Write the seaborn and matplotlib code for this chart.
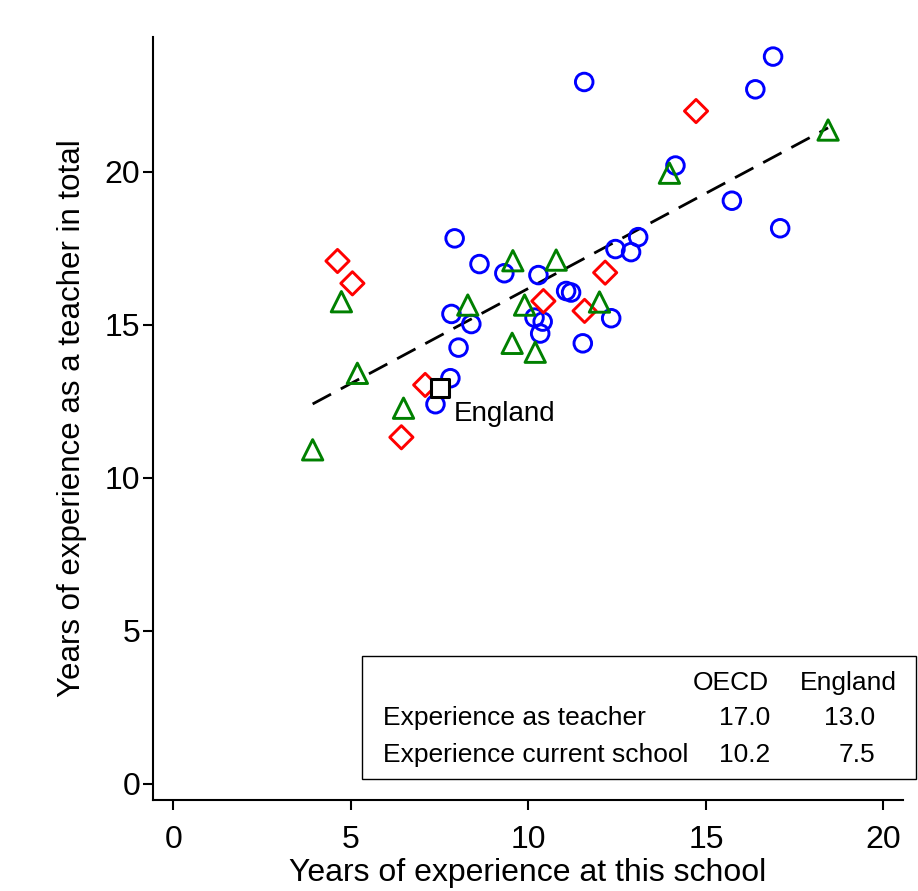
import numpy as np
import pandas as pd
import matplotlib.pyplot as plt
import seaborn as sns
from matplotlib.patches import Rectangle

# Country points (years at this school, years in total)
blue_x = [11.57, 16.89, 16.39, 14.14, 15.73, 17.09, 7.92, 8.62, 9.32, 10.28,
          11.06, 11.20, 12.45, 12.89, 13.09, 7.83, 8.39, 10.17, 10.40, 10.33,
          8.03, 11.53, 12.33, 7.80, 7.38]
blue_y = [22.94, 23.77, 22.70, 20.21, 19.06, 18.16, 17.83, 16.99, 16.69, 16.63,
          16.11, 16.06, 17.48, 17.38, 17.87, 15.36, 15.03, 15.24, 15.11, 14.72,
          14.26, 14.40, 15.22, 13.26, 12.41]
red_x = [14.72, 4.62, 5.04, 10.42, 12.16, 11.58, 7.09, 6.42]
red_y = [21.99, 17.09, 16.36, 15.78, 16.71, 15.46, 13.04, 11.33]
green_x = [18.44, 13.97, 4.73, 5.18, 6.48, 3.92, 8.29, 9.56, 10.78, 9.89,
           9.54, 10.19, 12.00]
green_y = [21.37, 19.96, 15.76, 13.42, 12.28, 10.92, 15.65, 17.10, 17.12, 15.65,
           14.40, 14.11, 15.75]
england_x = [7.5]
england_y = [12.95]

table_cols = ['OECD', 'England']
table_rows = ['Experience as teacher', 'Experience current school']
table_vals = [['17.0', '13.0'], ['10.2', '7.5']]

groups = ['blue', 'red', 'green']
df = pd.concat([
    pd.DataFrame({'school': blue_x, 'total': blue_y, 'group': 'blue'}),
    pd.DataFrame({'school': red_x, 'total': red_y, 'group': 'red'}),
    pd.DataFrame({'school': green_x, 'total': green_y, 'group': 'green'}),
], ignore_index=True)
eng = pd.DataFrame({'school': england_x, 'total': england_y})

sns.set_style('ticks')
plt.rcParams['font.family'] = ['Liberation Sans', 'DejaVu Sans']
plt.rcParams['text.color'] = 'black'
plt.rcParams['axes.labelcolor'] = 'black'
plt.rcParams['xtick.color'] = 'black'
plt.rcParams['ytick.color'] = 'black'

W, H = 918, 891
fig = plt.figure(figsize=(W / 100, H / 100), dpi=100)
ax = fig.add_axes([153 / W, 1 - 800 / H, 750 / W, 763 / H])


def fx(x):
    return x / W


def fy(y):
    return 1 - y / H


colors = {'blue': '#0000FF', 'red': '#FF0000', 'green': '#008000'}
markers = {'blue': 'o', 'red': 'D', 'green': '^'}
sizes = {'blue': 160, 'red': 140, 'green': 215}

for g in groups:
    sub = df[df['group'] == g]
    sns.scatterplot(data=sub, x='school', y='total', ax=ax, marker=markers[g],
                    s=sizes[g], facecolors='none', edgecolor=colors[g],
                    linewidth=2.1, zorder=3)

# fitted line across the countries
sns.regplot(data=df, x='school', y='total', ax=ax, scatter=False, ci=None,
            truncate=True,
            line_kws={'color': 'black', 'lw': 2.0, 'dashes': (7.5, 4), 'zorder': 2})

sns.scatterplot(data=eng, x='school', y='total', ax=ax, marker='s', s=185,
                facecolors='white', edgecolor='black', linewidth=2.2, zorder=4)
ax.annotate('England', (england_x[0], england_y[0]), xytext=(10, -19),
            textcoords='offset points', fontsize=20, va='center', ha='left')

ax.set_xlim(-0.577, 20.55)
ax.set_ylim(-0.523, 24.41)
ax.set_xticks([0, 5, 10, 15, 20])
ax.set_yticks([0, 5, 10, 15, 20])
ax.tick_params(axis='both', labelsize=23, length=7, width=1.5, direction='out')
ax.tick_params(axis='x', pad=11)
ax.tick_params(axis='y', pad=2)
sns.despine(ax=ax)
for side in ['left', 'bottom']:
    ax.spines[side].set_linewidth(1.5)
    ax.spines[side].set_color('black')
ax.set_xlabel('Years of experience at this school', fontsize=23, labelpad=2)
ax.set_ylabel('Years of experience as a teacher in total', fontsize=22.5, labelpad=13)

# summary table box
fig.patches.append(Rectangle((fx(362), fy(779)), (916 - 362) / W, (779 - 656) / H,
                             transform=fig.transFigure, fill=False,
                             edgecolor='black', linewidth=1.0))
fs = 19
fig.text(fx(769), fy(683), table_cols[0], fontsize=fs, ha='right', va='center')
fig.text(fx(800), fy(683), table_cols[1], fontsize=fs, ha='left', va='center')
for i, (row, yy) in enumerate(zip(table_rows, [718, 755])):
    fig.text(fx(383), fy(yy), row, fontsize=fs, ha='left', va='center')
    fig.text(fx(770), fy(yy), table_vals[i][0], fontsize=fs, ha='right', va='center')
    fig.text(fx(875), fy(yy), table_vals[i][1], fontsize=fs, ha='right', va='center')

fig.savefig('out.png', dpi=100)
